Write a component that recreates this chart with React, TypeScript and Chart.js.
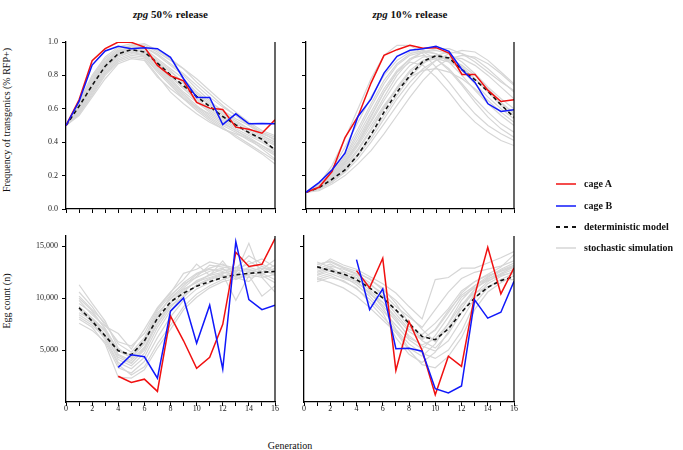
import React, { useEffect, useRef } from 'react';
import { Chart, registerables } from 'chart.js';
Chart.register(...registerables);

// ---------- data ----------
const GENS_ALL = [0, 1, 2, 3, 4, 5, 6, 7, 8, 9, 10, 11, 12, 13, 14, 15, 16];
const GENS_SIM_EGG = [1, 2, 3, 4, 5, 6, 7, 8, 9, 10, 11, 12, 13, 14, 15, 16];
const GENS_CAGE_EGG = [4, 5, 6, 7, 8, 9, 10, 11, 12, 13, 14, 15, 16];

const FREQ_TICKS = [0, 0.2, 0.4, 0.6, 0.8, 1.0];
const EGG_TICKS = [5000, 10000, 15000];
const X_TICKS = GENS_ALL;

// zpg 50% release – frequency
const freq50CageA = [0.5, 0.654, 0.888, 0.96, 1.0, 0.998, 0.97, 0.86, 0.798, 0.768, 0.638, 0.604, 0.596, 0.49, 0.478, 0.454, 0.534];
const freq50CageB = [0.5, 0.644, 0.862, 0.946, 0.974, 0.96, 0.966, 0.96, 0.908, 0.78, 0.668, 0.668, 0.506, 0.57, 0.51, 0.512, 0.51];
const freq50Det = [0.5, 0.615, 0.74, 0.855, 0.93, 0.954, 0.94, 0.874, 0.804, 0.738, 0.674, 0.614, 0.554, 0.504, 0.458, 0.418, 0.354];
const freq50Sim = [
  [0.5, 0.60, 0.74, 0.86, 0.93, 0.96, 0.95, 0.88, 0.80, 0.73, 0.66, 0.60, 0.55, 0.50, 0.45, 0.41, 0.36],
  [0.5, 0.63, 0.79, 0.90, 0.96, 0.98, 0.97, 0.92, 0.86, 0.80, 0.72, 0.65, 0.58, 0.53, 0.48, 0.44, 0.40],
  [0.5, 0.58, 0.70, 0.82, 0.90, 0.93, 0.92, 0.84, 0.76, 0.68, 0.61, 0.55, 0.50, 0.46, 0.41, 0.37, 0.32],
  [0.5, 0.62, 0.76, 0.88, 0.95, 0.97, 0.96, 0.90, 0.84, 0.78, 0.70, 0.64, 0.59, 0.54, 0.50, 0.46, 0.43],
  [0.5, 0.57, 0.68, 0.80, 0.88, 0.91, 0.90, 0.80, 0.70, 0.63, 0.57, 0.52, 0.48, 0.44, 0.39, 0.34, 0.29],
  [0.5, 0.64, 0.80, 0.91, 0.97, 0.99, 0.98, 0.94, 0.89, 0.84, 0.78, 0.71, 0.64, 0.58, 0.52, 0.47, 0.44],
  [0.5, 0.60, 0.73, 0.85, 0.92, 0.94, 0.93, 0.86, 0.78, 0.70, 0.64, 0.58, 0.53, 0.48, 0.44, 0.40, 0.35],
  [0.5, 0.59, 0.72, 0.84, 0.92, 0.95, 0.91, 0.82, 0.74, 0.66, 0.59, 0.53, 0.48, 0.45, 0.42, 0.38, 0.33],
  [0.5, 0.61, 0.75, 0.87, 0.94, 0.97, 0.97, 0.93, 0.87, 0.81, 0.74, 0.67, 0.61, 0.56, 0.51, 0.46, 0.41],
  [0.5, 0.56, 0.67, 0.78, 0.87, 0.90, 0.89, 0.79, 0.72, 0.66, 0.61, 0.57, 0.52, 0.47, 0.42, 0.36, 0.30],
  [0.5, 0.62, 0.77, 0.88, 0.94, 0.96, 0.94, 0.87, 0.79, 0.72, 0.65, 0.59, 0.54, 0.49, 0.46, 0.42, 0.38],
  [0.5, 0.63, 0.78, 0.89, 0.95, 0.96, 0.95, 0.89, 0.83, 0.75, 0.68, 0.62, 0.56, 0.51, 0.47, 0.43, 0.39],
  [0.5, 0.58, 0.71, 0.83, 0.91, 0.94, 0.92, 0.85, 0.77, 0.69, 0.62, 0.56, 0.51, 0.47, 0.43, 0.38, 0.34],
  [0.5, 0.60, 0.74, 0.86, 0.93, 0.95, 0.94, 0.88, 0.82, 0.76, 0.69, 0.63, 0.57, 0.52, 0.48, 0.44, 0.40],
  [0.5, 0.57, 0.69, 0.81, 0.89, 0.92, 0.91, 0.83, 0.75, 0.67, 0.60, 0.54, 0.49, 0.43, 0.38, 0.33, 0.27],
  [0.5, 0.61, 0.76, 0.87, 0.94, 0.98, 0.99, 0.95, 0.90, 0.84, 0.76, 0.69, 0.62, 0.56, 0.50, 0.45, 0.42],
];

// zpg 10% release – frequency
const freq10CageA = [0.1, 0.13, 0.224, 0.428, 0.554, 0.754, 0.92, 0.954, 0.98, 0.962, 0.966, 0.934, 0.806, 0.806, 0.71, 0.644, 0.654];
const freq10CageB = [0.1, 0.158, 0.234, 0.334, 0.554, 0.658, 0.814, 0.914, 0.95, 0.96, 0.974, 0.944, 0.834, 0.758, 0.63, 0.584, 0.594];
const freq10Det = [0.1, 0.128, 0.178, 0.234, 0.324, 0.444, 0.58, 0.70, 0.80, 0.884, 0.918, 0.904, 0.834, 0.774, 0.704, 0.624, 0.55];
const freq10Sim = [
  [0.1, 0.15, 0.26, 0.42, 0.60, 0.78, 0.92, 0.98, 0.98, 0.93, 0.85, 0.76, 0.66, 0.57, 0.50, 0.45, 0.41],
  [0.1, 0.13, 0.20, 0.30, 0.42, 0.56, 0.70, 0.82, 0.90, 0.94, 0.95, 0.93, 0.88, 0.81, 0.73, 0.66, 0.60],
  [0.1, 0.12, 0.17, 0.24, 0.33, 0.44, 0.56, 0.68, 0.79, 0.87, 0.92, 0.94, 0.93, 0.90, 0.84, 0.77, 0.70],
  [0.1, 0.14, 0.22, 0.34, 0.48, 0.63, 0.77, 0.87, 0.93, 0.95, 0.93, 0.88, 0.80, 0.71, 0.63, 0.56, 0.50],
  [0.1, 0.12, 0.16, 0.22, 0.30, 0.40, 0.51, 0.62, 0.73, 0.82, 0.89, 0.93, 0.95, 0.94, 0.89, 0.82, 0.75],
  [0.1, 0.13, 0.19, 0.28, 0.39, 0.52, 0.65, 0.77, 0.86, 0.91, 0.92, 0.89, 0.83, 0.75, 0.67, 0.60, 0.54],
  [0.1, 0.14, 0.21, 0.31, 0.44, 0.58, 0.72, 0.83, 0.90, 0.92, 0.90, 0.84, 0.75, 0.66, 0.58, 0.51, 0.46],
  [0.1, 0.11, 0.15, 0.20, 0.27, 0.35, 0.45, 0.56, 0.67, 0.77, 0.85, 0.90, 0.92, 0.91, 0.87, 0.81, 0.74],
  [0.1, 0.13, 0.18, 0.26, 0.36, 0.48, 0.61, 0.73, 0.83, 0.89, 0.91, 0.90, 0.86, 0.80, 0.72, 0.64, 0.57],
  [0.1, 0.15, 0.24, 0.37, 0.52, 0.67, 0.80, 0.89, 0.94, 0.94, 0.90, 0.83, 0.74, 0.64, 0.55, 0.48, 0.43],
  [0.1, 0.12, 0.18, 0.27, 0.38, 0.50, 0.62, 0.72, 0.79, 0.83, 0.84, 0.82, 0.78, 0.72, 0.65, 0.58, 0.52],
  [0.1, 0.14, 0.20, 0.29, 0.40, 0.53, 0.67, 0.80, 0.89, 0.94, 0.96, 0.96, 0.93, 0.88, 0.82, 0.76, 0.71],
  [0.1, 0.13, 0.19, 0.28, 0.40, 0.55, 0.70, 0.82, 0.88, 0.86, 0.79, 0.70, 0.60, 0.52, 0.46, 0.41, 0.38],
  [0.1, 0.12, 0.17, 0.25, 0.35, 0.47, 0.60, 0.72, 0.82, 0.88, 0.90, 0.88, 0.84, 0.78, 0.70, 0.62, 0.56],
  [0.1, 0.13, 0.21, 0.32, 0.46, 0.61, 0.75, 0.86, 0.92, 0.94, 0.93, 0.90, 0.85, 0.78, 0.70, 0.63, 0.58],
  [0.1, 0.12, 0.16, 0.23, 0.32, 0.42, 0.54, 0.66, 0.76, 0.84, 0.89, 0.91, 0.90, 0.86, 0.80, 0.73, 0.66],
];

// zpg 50% release – egg count
const egg50CageA = [2480, 1880, 2200, 1020, 8280, 5900, 3250, 4300, 7480, 14430, 13060, 13280, 15760];
const egg50CageB = [3340, 4550, 4360, 2290, 8760, 10030, 5670, 9330, 3180, 15450, 9870, 8900, 9330];
const egg50Det = [9080, 7800, 6370, 4940, 4550, 5900, 8060, 9650, 10500, 11150, 11600, 12000, 12260, 12400, 12500, 12580];
const egg50Sim = [
  [11300, 9500, 7800, 5200, 4200, 5600, 8200, 10200, 11500, 12400, 12900, 13300, 12500, 13600, 12800, 12200],
  [9000, 8000, 6800, 4500, 3800, 5000, 7600, 9500, 10800, 11600, 12000, 12400, 12700, 12600, 12900, 12700],
  [8200, 7400, 6200, 3800, 3200, 4300, 6800, 8800, 10300, 11200, 11800, 12200, 12100, 12500, 12300, 12900],
  [10200, 8900, 7600, 5600, 4800, 6200, 8800, 10300, 11400, 12000, 12600, 12900, 11800, 12300, 13100, 12500],
  [7600, 6900, 5800, 3300, 2800, 3900, 6200, 8200, 9800, 10900, 11500, 12100, 12600, 12800, 12400, 11800],
  [9500, 8600, 7100, 4900, 4300, 5800, 8400, 10000, 11200, 12300, 12800, 12600, 13000, 12700, 12500, 13200],
  [8600, 7900, 6500, 4100, 3500, 4700, 7200, 9100, 10600, 11700, 12200, 12500, 12300, 13000, 12600, 12400],
  [10600, 9200, 7400, 5800, 5400, 6600, 9000, 10500, 12400, 12800, 13500, 13200, 12900, 14100, 13300, 12600],
  [8900, 7700, 6000, 3600, 2600, 3400, 5600, 7400, 9200, 10400, 11200, 11800, 12200, 12000, 12200, 11500],
  [9800, 8400, 7300, 6600, 5100, 7000, 9100, 10600, 11800, 13300, 12200, 13600, 12000, 11600, 12800, 13700],
  [8400, 7600, 6400, 4300, 3700, 5200, 7900, 9600, 10900, 11500, 12300, 12800, 12400, 15300, 12000, 10600],
  [9200, 8100, 6900, 4600, 4000, 5300, 7500, 9300, 10100, 11300, 11900, 12300, 9800, 12200, 10200, 11200],
  [10000, 8800, 7000, 5000, 4500, 6000, 8600, 9900, 11000, 12100, 13200, 13000, 12800, 13300, 13800, 13000],
  [8000, 7200, 5600, 2400, 2300, 3100, 5200, 7000, 8900, 10100, 11000, 11600, 11900, 12300, 12000, 12300],
];

// zpg 10% release – egg count
const egg10CageA = [12660, 11000, 13850, 3040, 7760, 4970, 700, 4420, 3430, 10260, 14900, 10420, 12920];
const egg10CageB = [13720, 8910, 10900, 5130, 5190, 4900, 1280, 870, 1540, 9840, 8080, 8650, 11630];
const egg10Det = [13040, 12660, 12340, 11800, 11000, 10030, 8880, 7600, 6310, 6000, 7050, 8650, 10030, 11060, 11700, 12100];
const egg10Sim = [
  [12500, 12900, 12300, 11900, 10800, 9600, 8200, 6800, 6000, 7000, 8800, 10300, 11200, 11900, 12300, 12800],
  [13200, 13600, 13000, 12600, 11800, 11000, 9500, 7600, 5900, 5200, 6600, 8600, 10400, 11600, 12400, 13000],
  [11800, 12200, 11600, 11000, 9600, 8200, 6900, 5200, 4400, 5600, 7600, 9800, 11200, 12100, 12700, 13200],
  [12800, 13300, 12600, 12000, 11300, 10500, 9200, 8200, 7200, 8900, 10600, 11900, 12500, 12800, 13100, 13600],
  [12200, 12600, 12100, 11300, 10200, 8800, 7400, 6000, 5100, 6400, 8200, 10100, 11000, 11700, 12200, 12500],
  [13500, 13000, 12200, 11600, 10500, 9300, 7800, 6400, 5400, 4900, 5900, 7900, 10000, 11400, 12100, 12600],
  [11600, 12000, 11700, 10900, 9900, 8600, 6200, 4600, 3800, 4800, 6800, 9300, 10900, 11800, 12600, 13100],
  [12900, 13800, 13200, 12800, 12100, 11400, 10500, 9200, 8000, 11800, 12000, 12900, 12900, 13400, 13900, 14500],
  [12000, 12400, 11900, 11500, 10600, 9100, 7000, 5600, 4700, 4200, 5000, 6800, 9500, 11000, 11800, 12400],
  [13000, 12700, 12500, 12200, 11000, 10000, 8500, 7000, 6500, 7600, 9000, 10700, 11600, 12200, 12600, 13000],
  [11900, 11500, 11000, 10200, 9100, 7900, 6700, 5000, 3600, 3300, 4400, 6200, 8900, 10600, 11500, 12200],
  [12600, 13100, 12800, 12300, 11500, 10200, 8800, 7300, 6100, 6900, 8600, 10500, 11600, 12300, 13000, 14200],
  [12300, 12800, 12000, 11700, 10400, 9600, 8000, 6200, 5500, 6100, 7500, 9400, 10500, 11100, 11800, 11800],
  [13300, 13500, 12900, 12400, 11900, 10800, 9800, 8400, 7000, 5800, 7200, 9000, 10800, 12000, 12800, 13400],
];

// ---------- styling ----------
const SERIF = '"Liberation Serif", "Times New Roman", serif';
const RED = 'rgb(240, 16, 16)';
const BLUE = 'rgb(16, 24, 250)';
const GREY = 'rgb(214, 214, 214)';
const DARK = 'rgb(20, 20, 20)';

const toPts = (xs: number[], ys: number[]) => xs.map((x, i) => ({ x, y: ys[i] }));

const rightBorder = {
  id: 'rightBorder',
  afterDraw(chart: any) {
    const { ctx, chartArea } = chart;
    ctx.save();
    ctx.strokeStyle = '#000';
    ctx.lineWidth = 1.2;
    ctx.beginPath();
    ctx.moveTo(chartArea.right, chartArea.top);
    ctx.lineTo(chartArea.right, chartArea.bottom);
    ctx.stroke();
    ctx.restore();
  },
};

type PanelProps = {
  left: number; top: number; width: number; height: number;
  yWidth: number; padRight: number; padTop: number; xHeight: number;
  yMax: number; yTicks: number[]; yFmt: (v: number) => string;
  showY: boolean; showX: boolean;
  xsDet: number[]; det: number[];
  xsCage: number[]; cageA: number[]; cageB: number[];
  xsSim: number[]; sims: number[][];
};

function Panel(p: PanelProps) {
  const ref = useRef<HTMLCanvasElement | null>(null);
  useEffect(() => {
    if (!ref.current) return;
    const datasets: any[] = [];
    datasets.push({ data: toPts(p.xsCage, p.cageB), borderColor: BLUE, borderWidth: 1.5, order: 1 });
    datasets.push({ data: toPts(p.xsCage, p.cageA), borderColor: RED, borderWidth: 1.5, order: 2 });
    datasets.push({ data: toPts(p.xsDet, p.det), borderColor: DARK, borderWidth: 1.6, borderDash: [4, 3], order: 3 });
    p.sims.forEach((s) => datasets.push({ data: toPts(p.xsSim, s), borderColor: GREY, borderWidth: 1.2, order: 4 }));
    datasets.forEach((d) => { d.pointRadius = 0; d.tension = 0; d.fill = false; });
    const tickFont = { family: SERIF, size: 8 };
    const chart = new Chart(ref.current, {
      type: 'line',
      data: { datasets },
      plugins: [rightBorder],
      options: {
        animation: false,
        responsive: false,
        maintainAspectRatio: false,
        layout: { padding: { left: 0, top: p.padTop, right: p.padRight, bottom: 0 } },
        plugins: { legend: { display: false }, tooltip: { enabled: false } },
        scales: {
          x: {
            type: 'linear', min: 0, max: 16,
            afterFit: (s: any) => { s.height = p.xHeight; },
            afterBuildTicks: (s: any) => { s.ticks = X_TICKS.map((v) => ({ value: v })); },
            ticks: {
              autoSkip: false, maxRotation: 0, padding: -2, font: tickFont, color: '#222',
              callback: (v: any) => (p.showX && Number(v) % 2 === 0 ? String(v) : ''),
            },
            grid: { drawOnChartArea: false, drawTicks: true, tickLength: 4, color: '#000', lineWidth: 1 },
            border: { display: true, color: '#000', width: 1.3 },
          },
          y: {
            type: 'linear', min: 0, max: p.yMax,
            afterFit: (s: any) => { s.width = p.yWidth; },
            afterBuildTicks: (s: any) => { s.ticks = p.yTicks.map((v) => ({ value: v })); },
            ticks: {
              autoSkip: false, padding: 4, font: tickFont, color: '#222',
              callback: (v: any) => (p.showY ? p.yFmt(Number(v)) : ''),
            },
            grid: { drawOnChartArea: false, drawTicks: true, tickLength: 4, color: '#000', lineWidth: 1 },
            border: { display: true, color: '#000', width: 1.3 },
          },
        },
      } as any,
    });
    return () => chart.destroy();
  }, []);
  return (
    <canvas
      ref={ref}
      width={p.width}
      height={p.height}
      style={{ position: 'absolute', left: p.left, top: p.top, width: p.width, height: p.height }}
    />
  );
}

const fmtFreq = (v: number) => v.toFixed(1);
const fmtEgg = (v: number) => v.toLocaleString('en-US');

const textBase: React.CSSProperties = { position: 'absolute', fontFamily: SERIF, color: '#111', whiteSpace: 'nowrap' };

function LegendRow({ y, label, kind }: { y: number; label: string; kind: 'red' | 'blue' | 'det' | 'sim' }) {
  const color = kind === 'red' ? RED : kind === 'blue' ? BLUE : kind === 'det' ? DARK : GREY;
  return (
    <>
      <svg style={{ position: 'absolute', left: 555, top: y - 3 }} width={22} height={6}>
        <line x1={1} y1={3} x2={21} y2={3} stroke={color} strokeWidth={kind === 'det' ? 1.8 : 1.5}
          strokeDasharray={kind === 'det' ? '4 4' : undefined} />
      </svg>
      <div style={{ ...textBase, left: 584, top: y - 7, fontSize: 10, lineHeight: '13px', fontWeight: 'bold' }}>{label}</div>
    </>
  );
}

export default function App() {
  return (
    <div style={{ position: 'absolute', left: 0, top: 0, width: 683, height: 450, background: '#fff', overflow: 'hidden' }}>
      <div style={{ ...textBase, left: 66, width: 209, top: 7, textAlign: 'center', fontSize: 11, lineHeight: '14px', fontWeight: 'bold' }}>
        <i>zpg</i> 50% release
      </div>
      <div style={{ ...textBase, left: 306, width: 208, top: 7, textAlign: 'center', fontSize: 11, lineHeight: '14px', fontWeight: 'bold' }}>
        <i>zpg</i> 10% release
      </div>
      <div style={{ ...textBase, left: 7 - 110, top: 120 - 7, width: 220, textAlign: 'center', fontSize: 10, lineHeight: '14px', transform: 'rotate(-90deg)' }}>
        Frequency of transgenics (% RFP+)
      </div>
      <div style={{ ...textBase, left: 7 - 110, top: 301 - 7, width: 220, textAlign: 'center', fontSize: 10, lineHeight: '14px', transform: 'rotate(-90deg)' }}>
        Egg count (n)
      </div>
      <div style={{ ...textBase, left: 240, width: 100, top: 439, textAlign: 'center', fontSize: 10, lineHeight: '14px' }}>
        Generation
      </div>

      <Panel left={0} top={30} width={290} height={200} yWidth={66} padRight={15} padTop={12} xHeight={21}
        yMax={1} yTicks={FREQ_TICKS} yFmt={fmtFreq} showY={true} showX={false}
        xsDet={GENS_ALL} det={freq50Det} xsCage={GENS_ALL} cageA={freq50CageA} cageB={freq50CageB}
        xsSim={GENS_ALL} sims={freq50Sim} />
      <Panel left={285} top={30} width={245} height={200} yWidth={21} padRight={16} padTop={12} xHeight={21}
        yMax={1} yTicks={FREQ_TICKS} yFmt={fmtFreq} showY={false} showX={false}
        xsDet={GENS_ALL} det={freq10Det} xsCage={GENS_ALL} cageA={freq10CageA} cageB={freq10CageB}
        xsSim={GENS_ALL} sims={freq10Sim} />
      <Panel left={0} top={224} width={290} height={200} yWidth={66} padRight={15} padTop={12} xHeight={22}
        yMax={16000} yTicks={EGG_TICKS} yFmt={fmtEgg} showY={true} showX={true}
        xsDet={GENS_SIM_EGG} det={egg50Det} xsCage={GENS_CAGE_EGG} cageA={egg50CageA} cageB={egg50CageB}
        xsSim={GENS_SIM_EGG} sims={egg50Sim} />
      <Panel left={285} top={224} width={245} height={200} yWidth={19} padRight={16} padTop={12} xHeight={22}
        yMax={16000} yTicks={EGG_TICKS} yFmt={fmtEgg} showY={false} showX={true}
        xsDet={GENS_SIM_EGG} det={egg10Det} xsCage={GENS_CAGE_EGG} cageA={egg10CageA} cageB={egg10CageB}
        xsSim={GENS_SIM_EGG} sims={egg10Sim} />

      <LegendRow y={184} label="cage A" kind="red" />
      <LegendRow y={206} label="cage B" kind="blue" />
      <LegendRow y={227} label="deterministic model" kind="det" />
      <LegendRow y={248} label="stochastic simulation" kind="sim" />
    </div>
  );
}
